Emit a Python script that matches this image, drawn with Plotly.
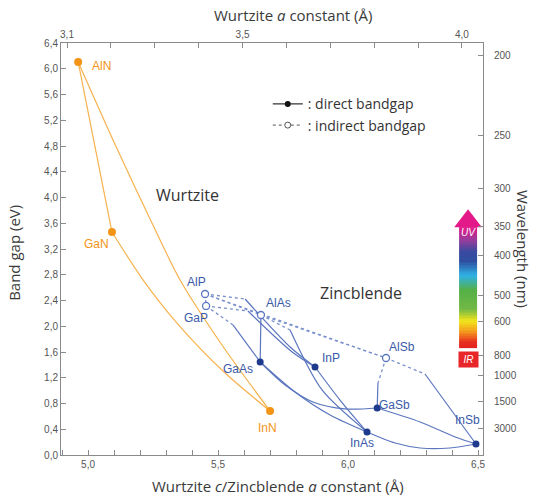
import numpy as np
import plotly.graph_objects as go

# ---------------- data ----------------
compounds = ["AlN", "GaN", "InN", "AlP", "GaP", "AlAs", "GaAs", "InP", "AlSb", "GaSb", "InAs", "InSb"]
lattice_c = [4.962, 5.092, 5.700, 5.450, 5.454, 5.665, 5.662, 5.873, 6.146, 6.112, 6.073, 6.492]
bandgap = [6.105, 3.464, 0.683, 2.501, 2.315, 2.175, 1.445, 1.367, 1.507, 0.730, 0.357, 0.171]
is_direct = [True, True, True, False, False, False, True, True, False, True, True, True]
is_wurtzite = [True, True, True, False, False, False, False, False, False, False, False, False]

# wurtzite alloy curves
aln_gan_x = [4.962, 5.092]
aln_gan_y = [6.105, 3.464]
aln_inn_x = [4.962, 5.112, 5.277, 5.354, 5.515, 5.700]
aln_inn_y = [6.105, 4.753, 3.340, 2.718, 1.709, 0.683]
gan_inn_x = [5.092, 5.212, 5.342, 5.523, 5.700]
gan_inn_y = [3.464, 2.718, 2.050, 1.289, 0.683]

# zincblende alloy curves: indirect (dotted) parts
alp_gap_x = [5.450, 5.454]
alp_gap_y = [2.501, 2.315]
alp_alas_x = [5.450, 5.665]
alp_alas_y = [2.501, 2.175]
alp_alsb_x = [5.450, 6.146]
alp_alsb_y = [2.501, 1.507]
alas_alsb_x = [5.665, 6.146]
alas_alsb_y = [2.175, 1.507]
gap_gaas_ind_x = [5.454, 5.558]
gap_gaas_ind_y = [2.315, 2.019]
alp_inp_ind_x = [5.450, 5.604]
alp_inp_ind_y = [2.501, 2.423]
gap_inp_ind_x = [5.454, 5.615]
gap_inp_ind_y = [2.315, 2.237]
alas_inas_ind_x = [5.665, 5.777]
alas_inas_ind_y = [2.175, 1.942]
alsb_gasb_ind_x = [6.146, 6.115]
alsb_gasb_ind_y = [1.507, 1.118]
alsb_insb_ind_x = [6.146, 6.296]
alsb_insb_ind_y = [1.507, 1.258]

# zincblende alloy curves: direct (solid) parts
gap_gaas_dir_x = [5.558, 5.662]
gap_gaas_dir_y = [2.019, 1.445]
alas_gaas_x = [5.665, 5.662]
alas_gaas_y = [2.175, 1.445]
alp_inp_dir_x = [5.604, 5.777, 5.873]
alp_inp_dir_y = [2.423, 1.678, 1.367]
gap_inp_dir_x = [5.615, 5.785, 5.873]
gap_inp_dir_y = [2.237, 1.600, 1.367]
alas_inas_dir_x = [5.777, 5.900, 6.073]
alas_inas_dir_y = [1.942, 1.010, 0.357]
alsb_gasb_dir_x = [6.115, 6.112]
alsb_gasb_dir_y = [1.118, 0.730]
alsb_insb_dir_x = [6.296, 6.492]
alsb_insb_dir_y = [1.258, 0.171]
gasb_insb_x = [6.112, 6.277, 6.412, 6.492]
gasb_insb_y = [0.730, 0.513, 0.280, 0.171]
inas_insb_x = [6.073, 6.181, 6.277, 6.392, 6.492]
inas_insb_y = [0.357, 0.186, 0.109, 0.109, 0.171]
gaas_gasb_x = [5.662, 5.758, 5.865, 5.988, 6.112]
gaas_gasb_y = [1.445, 1.087, 0.823, 0.715, 0.730]
gaas_inas_x = [5.662, 5.796, 5.931, 6.073]
gaas_inas_y = [1.445, 0.979, 0.621, 0.357]
inp_inas_x = [5.873, 5.969, 6.073]
inp_inas_y = [1.367, 0.854, 0.357]

# axes
bottom_ticks = [5.0, 5.5, 6.0, 6.5]
top_ticks = [3.1, 3.2, 3.3, 3.4, 3.5, 3.6, 3.7, 3.8, 3.9, 4.0]
top_labels = ["3,1", "", "", "", "3,5", "", "", "", "", "4,0"]
wavelength_ticks = [200, 250, 300, 350, 400, 500, 600, 800, 1000, 1500, 3000]

# ---------------- style ----------------
ORANGE_LINE = "#f6b24e"
ORANGE_MK = "#f39417"
BLUE_LINE = "#5b76bf"
BLUE_DOT = "#7990cc"
BLUE_MK = "#1d3a8c"
BLUE_TXT = "#3b5aa8"
AXIS = "#8a8a8a"
TICKFONT = dict(family="Liberation Sans, Arial", size=10, color="#555555")
TITLEFONT = dict(family="Open Sans", size=15, color="#3a3a3a")

fig = go.Figure()

def add_line(x, y, color, dash="solid", width=1.2, shape="spline"):
    fig.add_trace(go.Scatter(x=x, y=y, mode="lines", line=dict(color=color, width=width, dash=dash, shape=shape, smoothing=0.8),
                             showlegend=False, hoverinfo="skip"))

# colour bar (spectrum) -- decoration
bar_x = [6.427, 6.496]
bar_e = np.linspace(1.66, 3.54, 81)
spectrum = [[0.0, "#e3221f"], [0.05, "#e8301f"], [0.13, "#f49b1c"], [0.22, "#f2e51c"],
            [0.32, "#72b845"], [0.48, "#54b046"], [0.60, "#2fb2e4"], [0.72, "#2f4ea0"],
            [0.80, "#3a4aa0"], [0.90, "#9a3c9c"], [1.0, "#e0198a"]]
fig.add_trace(go.Heatmap(x=bar_x, y=bar_e, z=[[v] for v in bar_e[:-1]], colorscale=spectrum,
                         showscale=False, hoverinfo="skip"))
fig.add_trace(go.Scatter(x=[sum(bar_x) / 2], y=[3.633], mode="markers",
                         marker=dict(symbol="triangle-up", size=24, color="#e3198a"),
                         showlegend=False, hoverinfo="skip"))

# wurtzite curves
add_line(aln_gan_x, aln_gan_y, ORANGE_LINE)
add_line(aln_inn_x, aln_inn_y, ORANGE_LINE)
add_line(gan_inn_x, gan_inn_y, ORANGE_LINE)

# indirect parts
for xs, ys in [(alp_gap_x, alp_gap_y), (alp_alas_x, alp_alas_y), (alp_alsb_x, alp_alsb_y),
               (alas_alsb_x, alas_alsb_y), (gap_gaas_ind_x, gap_gaas_ind_y), (alp_inp_ind_x, alp_inp_ind_y),
               (gap_inp_ind_x, gap_inp_ind_y), (alas_inas_ind_x, alas_inas_ind_y),
               (alsb_gasb_ind_x, alsb_gasb_ind_y), (alsb_insb_ind_x, alsb_insb_ind_y)]:
    add_line(xs, ys, BLUE_DOT, dash="dot", width=1.3, shape="linear")

# direct parts
for xs, ys in [(gap_gaas_dir_x, gap_gaas_dir_y), (alas_gaas_x, alas_gaas_y), (alp_inp_dir_x, alp_inp_dir_y),
               (gap_inp_dir_x, gap_inp_dir_y), (alas_inas_dir_x, alas_inas_dir_y),
               (alsb_gasb_dir_x, alsb_gasb_dir_y), (alsb_insb_dir_x, alsb_insb_dir_y),
               (gasb_insb_x, gasb_insb_y), (inas_insb_x, inas_insb_y), (gaas_gasb_x, gaas_gasb_y),
               (gaas_inas_x, gaas_inas_y), (inp_inas_x, inp_inas_y)]:
    add_line(xs, ys, BLUE_LINE)

# compound markers
for name, xv, yv, d, w in zip(compounds, lattice_c, bandgap, is_direct, is_wurtzite):
    if w:
        mk = dict(size=8, color=ORANGE_MK)
    elif d:
        mk = dict(size=7, color=BLUE_MK)
    else:
        mk = dict(size=7, color="white", line=dict(color=BLUE_LINE, width=1.3))
    fig.add_trace(go.Scatter(x=[xv], y=[yv], mode="markers", marker=mk, showlegend=False, hoverinfo="skip"))

# legend entries
fig.add_trace(go.Scatter(x=[None], y=[None], mode="lines+markers", name=": direct bandgap",
                         line=dict(color="#333333", width=1.2), marker=dict(size=6, color="#111111")))
fig.add_trace(go.Scatter(x=[None], y=[None], mode="lines+markers", name=": indirect bandgap",
                         line=dict(color="#777777", width=1.2, dash="dot"),
                         marker=dict(size=6, color="white", line=dict(color="#555555", width=1))))

# compound labels (pixel offsets from the point)
label_shift = {"AlN": (23, -4), "GaN": (-15, -12), "InN": (-3, -17), "AlP": (-9, 12), "GaP": (-10, -12),
               "AlAs": (18, 12), "GaAs": (-22, -7), "InP": (16, 9), "AlSb": (16, 11), "GaSb": (17, 3),
               "InAs": (-5, -11), "InSb": (-8, 24)}
annotations = []
for name, xv, yv, w in zip(compounds, lattice_c, bandgap, is_wurtzite):
    dx, dy = label_shift[name]
    annotations.append(dict(x=xv, y=yv, xref="x", yref="y", text=name, showarrow=False,
                            xshift=dx, yshift=dy,
                            font=dict(family="Liberation Sans, Arial", size=12,
                                      color=ORANGE_MK if w else BLUE_TXT)))

annotations += [
    dict(x=5.381, y=4.04, xref="x", yref="y", text="Wurtzite", showarrow=False,
         font=dict(family="Open Sans", size=16, color="#333333")),
    dict(x=6.05, y=2.52, xref="x", yref="y", text="Zincblende", showarrow=False,
         font=dict(family="Open Sans", size=16, color="#333333")),
    dict(x=sum(bar_x) / 2, y=3.45, xref="x", yref="y", text="<i>UV</i>", showarrow=False,
         font=dict(family="Liberation Sans, Arial", size=10, color="white")),
    dict(x=sum(bar_x) / 2, y=1.485, xref="x", yref="y", text="<i>IR</i>", showarrow=False,
         bgcolor="#e8262a", width=17, height=13, borderpad=1,
         font=dict(family="Liberation Sans, Arial", size=10, color="white")),
    dict(x=0.515, y=-0.075, xref="paper", yref="paper", text="Wurtzite <i>c</i>/Zincblende <i>a</i> constant (Å)",
         showarrow=False, font=TITLEFONT, xanchor="center", yanchor="middle"),
    dict(x=0.55, y=1.068, xref="paper", yref="paper", text="Wurtzite <i>a</i> constant (Å)",
         showarrow=False, font=TITLEFONT, xanchor="center", yanchor="middle"),
    dict(x=-0.112, y=0.49, xref="paper", yref="paper", text="Band gap (eV)", textangle=-90,
         showarrow=False, font=TITLEFONT, xanchor="center", yanchor="middle"),
    dict(x=1.095, y=0.50, xref="paper", yref="paper", text="Wavelength (nm)", textangle=90,
         showarrow=False, font=TITLEFONT, xanchor="center", yanchor="middle"),
]

axis_common = dict(showline=True, linecolor=AXIS, linewidth=1, ticks="inside", tickcolor=AXIS,
                   ticklen=5, tickwidth=1, showgrid=False, zeroline=False, tickfont=TICKFONT)

fig.update_layout(
    width=537, height=499,
    margin=dict(l=61, r=54, t=43, b=44),
    paper_bgcolor="white", plot_bgcolor="white",
    separators=",.",
    showlegend=True,
    legend=dict(x=0.49, y=0.89, xanchor="left", yanchor="top", bgcolor="rgba(0,0,0,0)",
                font=dict(family="Open Sans", size=14, color="#333333"), itemwidth=30, tracegroupgap=0),
    xaxis=dict(range=[4.896, 6.519], tickvals=bottom_ticks, tickformat=".1f",
               minor=dict(dtick=0.1, ticks="inside", ticklen=5, tickcolor=AXIS), **axis_common),
    xaxis2=dict(range=[3.0863, 4.048], overlaying="x", side="top", tickvals=top_ticks, ticktext=top_labels,
                **axis_common),
    yaxis=dict(range=[0, 6.4], dtick=0.4, tick0=0, tickformat=".1f", **axis_common),
    yaxis2=dict(range=[0, 6.4], overlaying="y", side="right",
                tickvals=[1239.84 / w for w in wavelength_ticks], ticktext=[str(w) for w in wavelength_ticks],
                ticklabelstandoff=8, **axis_common),
    annotations=annotations,
)
# dummy trace so that the secondary axes are drawn
fig.add_trace(go.Scatter(x=[None], y=[None], xaxis="x2", yaxis="y2", showlegend=False, hoverinfo="skip"))

fig.write_html("out.html", config={"displayModeBar": False},
               post_script="document.body.style.margin='0px';")
